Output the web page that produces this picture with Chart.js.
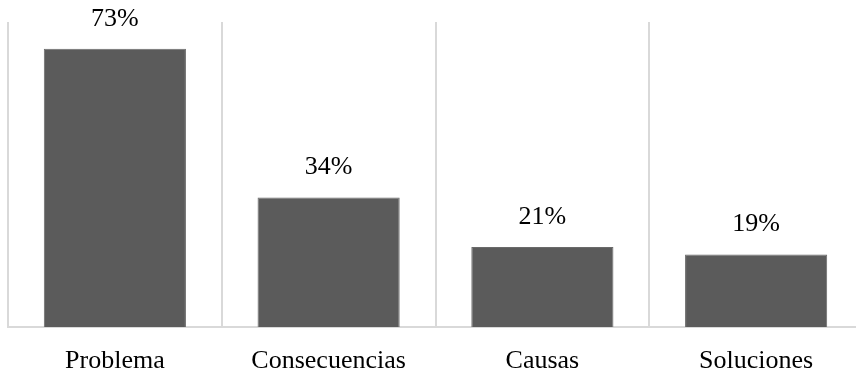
<!DOCTYPE html>
<html>
<head>
<meta charset="utf-8">
<script src="https://cdn.jsdelivr.net/npm/chart.js@4"></script>
<style>
  html, body { margin: 0; padding: 0; background: #fff; overflow: hidden; }
  #wrap { width: 856px; height: 377px; overflow: hidden; }
  #wrap div { width: 864px; height: 377px; }
</style>
</head>
<body>
<div id="wrap"><div><canvas id="myChart" width="864" height="377"></canvas></div></div>
<script>
const categories = ["Problema", "Consecuencias", "Causas", "Soluciones"];
const values = [73, 34, 21, 19];

const font = "'Liberation Serif', 'Times New Roman', serif";

// percentage labels above each bar
const valueLabels = {
  id: "valueLabels",
  afterDatasetsDraw(chart) {
    const ctx = chart.ctx;
    const meta = chart.getDatasetMeta(0);
    ctx.save();
    ctx.font = "26px " + font;
    ctx.fillStyle = "#000";
    ctx.textAlign = "center";
    ctx.textBaseline = "middle";
    meta.data.forEach((bar, i) => {
      ctx.fillText(values[i] + "%", bar.x, bar.y - 30);
    });
    ctx.restore();
  },
};

new Chart(document.getElementById("myChart"), {
  type: "bar",
  data: {
    labels: categories,
    datasets: [
      {
        data: values,
        backgroundColor: "#5b5b5b",
        borderColor: "#6a6a6a",
        borderWidth: 1,
        categoryPercentage: 0.665,
        barPercentage: 1,
      },
    ],
  },
  options: {
    responsive: false,
    animation: false,
    layout: { padding: { left: 8, top: 22, right: 1, bottom: 0 } },
    plugins: { legend: { display: false }, tooltip: { enabled: false } },
    scales: {
      x: {
        grid: { color: "#d9d9d9", lineWidth: 2, drawTicks: false },
        border: { color: "#d9d9d9", width: 2 },
        ticks: { color: "#000", font: { family: font, size: 26 }, padding: 19 },
        afterFit(scale) {
          scale.height = 50;
        },
      },
      y: {
        display: false,
        min: 0,
        max: 80,
      },
    },
  },
  plugins: [valueLabels],
});
</script>
</body>
</html>
